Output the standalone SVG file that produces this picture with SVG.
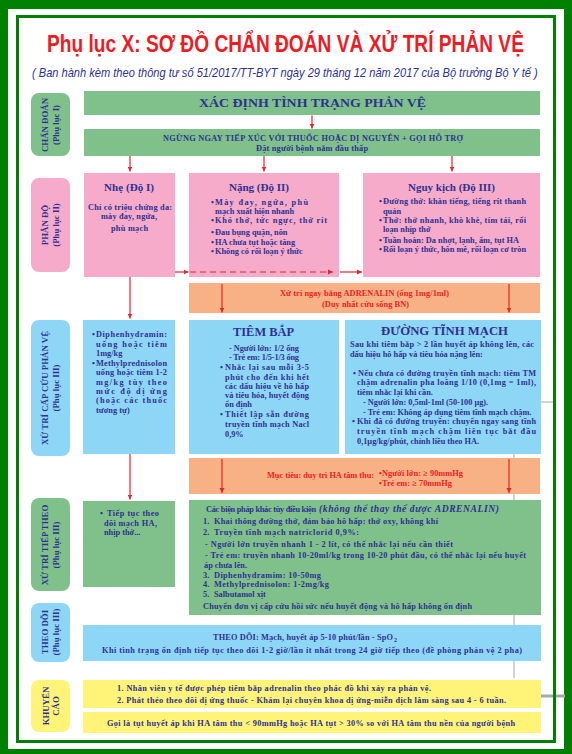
<svg xmlns="http://www.w3.org/2000/svg" width="572" height="754" viewBox="0 0 572 754">
<style>
.t{font-family:"Liberation Serif","Times New Roman",serif;font-weight:bold;font-size:8.3px;fill:#2e3192}
.r{fill:#ed1c24}
.lb{font-size:8.8px;text-anchor:middle}
.h{font-size:11px}
.s12{font-size:12px}
.s13{font-size:13px}
.s6{font-size:6px}
.s9{font-size:9.6px}
.c{text-anchor:middle}
.i{font-style:italic}
.g{fill:#80c08b}.p{fill:#f5abc9}.b{fill:#8ed6f5}.o{fill:#f8b185}.y{fill:#fff477}
.a{stroke:#e8242b;stroke-width:1.2;fill:none;marker-end:url(#ah)}
.gl{stroke:#a8a8a8;fill:none}
</style>
<defs>
<marker id="ah" markerUnits="userSpaceOnUse" markerWidth="6" markerHeight="6" refX="5" refY="3" orient="auto"><path d="M0,0.5 L5,3 L0,5.5z" fill="#e8242b"/></marker>
</defs>

<g id="frame">
<rect width="572" height="754" fill="#008000"/>
<rect x="8" y="9" width="556" height="740" fill="#fff"/>
<path class="gl" d="M553,402 H514 V678" stroke-width="1"/>
<path class="gl" d="M530,696 H565" stroke-width="3" stroke="#b4b4b4"/>
<rect x="17.5" y="16.5" width="537" height="725" fill="none" stroke="#008000" stroke-width="3"/>
</g>

<g id="title">
<text transform="translate(47,51.7) scale(0.787,1)" x="0" y="0" textLength="606" lengthAdjust="spacingAndGlyphs" font-family="'Liberation Sans',Arial,sans-serif" font-weight="bold" font-size="24.5" fill="#ed1c24">Phụ lục X: SƠ ĐỒ CHẨN ĐOÁN VÀ XỬ TRÍ PHẢN VỆ</text>
<text transform="translate(32,76.5) scale(0.86,1)" x="0" y="0" textLength="588" lengthAdjust="spacingAndGlyphs" font-family="'Liberation Sans',Arial,sans-serif" font-style="italic" font-size="12" fill="#2e3192">( Ban hành kèm theo thông tư số 51/2017/TT-BYT ngày 29 tháng 12 năm 2017 của Bộ trưởng Bộ Y tế )</text>
</g>

<g id="labels">
<g id="lbl-chandoan"><rect x="31" y="93" width="39" height="63" rx="8" class="g"/>
<g transform="translate(0,125) rotate(-90)"><text class="t lb" x="0" y="48">CHẨN ĐOÁN</text><text class="t lb" x="0" y="59">(Phụ lục I)</text></g></g>
<g id="lbl-phando"><rect x="31" y="178" width="39" height="94" rx="8" class="p"/>
<g transform="translate(0,225) rotate(-90)"><text class="t lb" x="0" y="48">PHÂN ĐỘ</text><text class="t lb" x="0" y="59">(Phụ lục II)</text></g></g>
<g id="lbl-capcuu"><rect x="31" y="320" width="39" height="136" rx="8" class="b"/>
<g transform="translate(0,388) rotate(-90)"><text class="t lb" x="0" y="48">XỬ TRÍ CẤP CỨU PHẢN VỆ</text><text class="t lb" x="0" y="59">(Phụ lục III)</text></g></g>
<g id="lbl-tieptheo"><rect x="31" y="498" width="39" height="93" rx="8" class="g"/>
<g transform="translate(0,545) rotate(-90)"><text class="t lb" x="0" y="48">XỬ TRÍ TIẾP THEO</text><text class="t lb" x="0" y="59">(Phụ lục III)</text></g></g>
<g id="lbl-theodoi"><rect x="31" y="603" width="39" height="59" rx="8" class="b"/>
<g transform="translate(0,632) rotate(-90)"><text class="t lb" x="0" y="48">THEO DÕI</text><text class="t lb" x="0" y="59">(Phụ lục III)</text></g></g>
<g id="lbl-khuyencao"><rect x="31" y="680" width="39" height="52" rx="8" class="y"/>
<g transform="translate(0,706) rotate(-90)"><text class="t lb" x="0" y="49">KHUYẾN</text><text class="t lb" x="0" y="59">CÁO</text></g></g>
</g>

<g id="n-xacdinh"><rect x="84" y="91" width="456" height="24" class="g"/>
<text class="t s12" x="199" y="107.3" textLength="227" lengthAdjust="spacingAndGlyphs">XÁC ĐỊNH TÌNH TRẠNG PHẢN VỆ</text></g>

<g id="n-ngung"><rect x="84" y="129" width="456" height="27" class="g"/>
<text class="t" x="163" y="140.5" textLength="300">NGỪNG NGAY TIẾP XÚC VỚI THUỐC HOẶC DỊ NGUYÊN + GỌI HỖ TRỢ</text>
<text class="t" x="256" y="151" textLength="112">Đặt người bệnh nằm đầu thấp</text></g>

<g id="n-nhe"><rect x="84" y="173" width="91" height="104" class="p"/>
<text class="t h" x="104" y="191.3" textLength="50">Nhẹ (Độ I)</text>
<text class="t c" x="130" y="209.5" textLength="84">Chỉ có triệu chứng da:</text>
<text class="t c" x="129" y="218.5" textLength="56">mày đay, ngứa,</text>
<text class="t c" x="129.5" y="230.5" textLength="37">phù mạch</text></g>

<g id="n-nang"><rect x="189" y="173" width="150" height="104" class="p"/>
<text class="t h" x="229" y="191.3" textLength="60">Nặng (Độ II)</text>
<text class="t" x="211" y="205">•</text><text class="t" x="215" y="205" textLength="93">Mày đay, ngứa, phù</text>
<text class="t" x="215" y="214">mạch xuất hiện nhanh</text>
<text class="t" x="211" y="223">•</text><text class="t" x="215" y="223" textLength="112">Khó thở, tức ngực, thở rít</text>
<text class="t" x="211" y="235">•</text><text class="t" x="215" y="235">Đau bụng quặn, nôn</text>
<text class="t" x="211" y="244.5">•</text><text class="t" x="215" y="244.5">HA chưa tụt hoặc tăng</text>
<text class="t" x="211" y="254">•</text><text class="t" x="215" y="254">Không có rối loạn ý thức</text></g>

<g id="n-nguykich"><rect x="363" y="173" width="177" height="104" class="p"/>
<text class="t h" x="408" y="191.3" textLength="87">Nguy kịch (Độ III)</text>
<text class="t" x="379" y="204">•</text><text class="t" x="383" y="204" textLength="143">Đường thở: khàn tiếng, tiếng rít thanh</text>
<text class="t" x="383" y="214">quản</text>
<text class="t" x="379" y="223">•</text><text class="t" x="383" y="223" textLength="143">Thở: thở nhanh, khò khè, tím tái, rối</text>
<text class="t" x="383" y="232">loạn nhịp thở</text>
<text class="t" x="379" y="243">•</text><text class="t" x="383" y="243" textLength="136">Tuần hoàn: Da nhợt, lạnh, ẩm, tụt HA</text>
<text class="t" x="379" y="252">•</text><text class="t" x="383" y="252" textLength="143">Rối loạn ý thức, hôn mê, rối loạn cơ tròn</text></g>

<g id="n-adrenalin"><rect x="189" y="283" width="351" height="30" class="o"/>
<text class="t r" x="280" y="296" textLength="169">Xử trí ngay bằng ADRENALIN (ống 1mg/1ml)</text>
<text class="t r" x="322" y="307" textLength="87">(Duy nhất cứu sống BN)</text></g>

<g id="n-diphen"><rect x="83" y="320" width="92" height="134" class="b"/>
<text class="t" x="92" y="337">•</text><text class="t" x="96" y="337" textLength="71">Diphenhydramin:</text>
<text class="t" x="96" y="347" textLength="71">uống hoặc tiêm</text>
<text class="t" x="96" y="356">1mg/kg</text>
<text class="t" x="92" y="366">•</text><text class="t" x="96" y="366" textLength="71">Methylprednisolon</text>
<text class="t" x="96" y="375" textLength="71">uống hoặc tiêm 1-2</text>
<text class="t" x="96" y="385" textLength="71">mg/kg tùy theo</text>
<text class="t" x="96" y="394" textLength="71">mức độ dị ứng</text>
<text class="t" x="96" y="403" textLength="71">(hoặc các thuốc</text>
<text class="t" x="96" y="413">tương tự)</text></g>

<g id="n-tiembap"><rect x="189" y="320" width="150" height="134" class="b"/>
<text class="t s13" x="233" y="336" textLength="61" lengthAdjust="spacingAndGlyphs">TIÊM BẮP</text>
<text class="t" x="229" y="351" textLength="70">- Người lớn: 1/2 ống</text>
<text class="t" x="229" y="360" textLength="70">- Trẻ em: 1/5-1/3 ống</text>
<text class="t" x="220" y="370">•</text><text class="t" x="225" y="370" textLength="84">Nhắc lại sau mỗi 3-5</text>
<text class="t" x="225" y="380" textLength="84">phút cho đến khi hết</text>
<text class="t" x="225" y="389" textLength="84">các dấu hiệu về hô hấp</text>
<text class="t" x="225" y="398" textLength="84">và tiêu hóa, huyết động</text>
<text class="t" x="225" y="407">ổn định</text>
<text class="t" x="220" y="417">•</text><text class="t" x="225" y="417" textLength="84">Thiết lập sẵn đường</text>
<text class="t" x="225" y="427" textLength="84">truyền tĩnh mạch Nacl</text>
<text class="t" x="225" y="437">0,9%</text></g>

<g id="n-tinhmach"><rect x="345" y="320" width="196" height="134" class="b"/>
<text class="t s13" x="381" y="335" textLength="127" lengthAdjust="spacingAndGlyphs">ĐƯỜNG TĨNH MẠCH</text>
<text class="t" x="350" y="347" textLength="184">Sau khi tiêm bắp &gt; 2 lần huyết áp không lên, các</text>
<text class="t" x="350" y="357">dấu hiệu hô hấp và tiêu hóa nặng lên:</text>
<text class="t" x="353" y="376">•</text><text class="t" x="358" y="376" textLength="178">Nếu chưa có đường truyền tĩnh mạch: tiêm TM</text>
<text class="t" x="357" y="385" textLength="179">chậm adrenalin pha loãng 1/10 (0,1mg = 1ml),</text>
<text class="t" x="357" y="395">tiêm nhắc lại khi cần.</text>
<text class="t" x="363" y="405">- Người lớn: 0,5ml-1ml (50-100 µg).</text>
<text class="t" x="363" y="415">- Trẻ em: Không áp dụng tiêm tĩnh mạch chậm.</text>
<text class="t" x="352" y="424">•</text><text class="t" x="357" y="424" textLength="179">Khi đã có đường truyền: chuyển ngay sang tĩnh</text>
<text class="t" x="357" y="434" textLength="179">truyền tĩnh mạch chậm liên tục bắt đầu</text>
<text class="t" x="357" y="444">0,1µg/kg/phút, chỉnh liều theo HA.</text></g>

<g id="n-muctieu"><rect x="189" y="458" width="351" height="36" class="o"/>
<text class="t r" x="267" y="478" textLength="107">Mục tiêu: duy trì HA tâm thu:</text>
<text class="t r" x="379" y="475.5" textLength="84">•Người lớn: ≥ 90mmHg</text>
<text class="t r" x="379" y="485.5" textLength="73">•Trẻ em: ≥ 70mmHg</text></g>

<g id="n-tieptuc"><rect x="83" y="501" width="92" height="86" class="g"/>
<text class="t" x="100" y="516">•</text><text class="t" x="107" y="516" textLength="52">Tiếp tục theo</text>
<text class="t" x="104" y="526" textLength="53">dõi mạch HA,</text>
<text class="t" x="104" y="535">nhịp thở...</text></g>

<g id="n-bienphap"><rect x="189" y="500" width="352" height="115" class="g"/>
<text class="t" x="206" y="512" textLength="110">Các biện pháp khác tùy điều kiện</text>
<text class="t i s9" x="319" y="512" textLength="180">(không thể thay thế được ADRENALIN)</text>
<text class="t" x="203" y="524">1.</text><text class="t" x="214" y="524" textLength="224">Khai thông đường thở, đảm bảo hô hấp: thở oxy, không khí</text>
<text class="t" x="203" y="535">2.</text><text class="t" x="214" y="535" textLength="145">Truyền tĩnh mạch natriclorid 0,9%:</text>
<text class="t" x="205" y="547" textLength="248">- Người lớn truyền nhanh 1 - 2 lít, có thể nhắc lại nếu cần thiết</text>
<text class="t" x="205" y="558" textLength="321">- Trẻ em: truyền nhanh 10-20ml/kg trong 10-20 phút đầu, có thể nhắc lại nếu huyết</text>
<text class="t" x="204" y="568">áp chưa lên.</text>
<text class="t" x="203" y="578">3.</text><text class="t" x="214" y="578" textLength="107">Diphenhydramim: 10-50mg</text>
<text class="t" x="203" y="587">4.</text><text class="t" x="214" y="587" textLength="115">Methylprednisolon: 1-2mg/kg</text>
<text class="t" x="203" y="597">5.</text><text class="t" x="214" y="597">Salbutamol xịt</text>
<text class="t" x="203" y="609" textLength="269">Chuyển đơn vị cấp cứu hồi sức nếu huyết động và hô hấp không ổn định</text></g>

<g id="n-theodoi"><rect x="83" y="625" width="458" height="36" class="b"/>
<text class="t" x="213" y="640" textLength="180">THEO DÕI: Mạch, huyết áp 5-10 phút/lần - SpO</text>
<text class="t s6" x="394" y="642">2</text>
<text class="t" x="102" y="653" textLength="420">Khi tình trạng ổn định tiếp tục theo dõi 1-2 giờ/lần ít nhất trong 24 giờ tiếp theo (đề phòng phản vệ 2 pha)</text></g>

<g id="n-khuyencao"><rect x="83" y="680" width="458" height="28" class="y"/>
<text class="t" x="117" y="691" textLength="314">1. Nhân viên y tế được phép tiêm bắp adrenalin theo phác đồ khi xảy ra phản vệ.</text>
<text class="t" x="117" y="703" textLength="389">2. Phát thẻo theo dõi dị ứng thuốc - Khám lại chuyên khoa dị ứng-miễn dịch lâm sàng sau 4 - 6 tuần.</text></g>

<g id="n-tuthuyetap"><rect x="83" y="712" width="458" height="21" class="y"/>
<text class="t" x="107" y="726" textLength="408">Gọi là tụt huyết áp khi HA tâm thu &lt; 90mmHg hoặc HA tụt &gt; 30% so với HA tâm thu nền của người bệnh</text></g>

<g id="connectors">
<path class="a" d="M312,115.5 V128.5"/>
<path class="a" d="M130,156 V171.5"/>
<path class="a" d="M264,156 V171.5"/>
<path class="a" d="M452,156 V171.5"/>
<path class="a" d="M175,272 H188.5"/>
<path class="a" d="M190,272 H333" stroke-dasharray="6,4"/>
<path class="a" d="M340,272 H362"/>
<path class="a" d="M130,277 V318.5"/>
<path class="a" d="M222,284 V312.5"/>
<path class="a" d="M509,284 V312.5"/>
<path class="a" d="M130,454 V499.5"/>
<path class="a" d="M222,459 V493"/>
<path class="a" d="M509,459 V493"/>
</g>
</svg>
